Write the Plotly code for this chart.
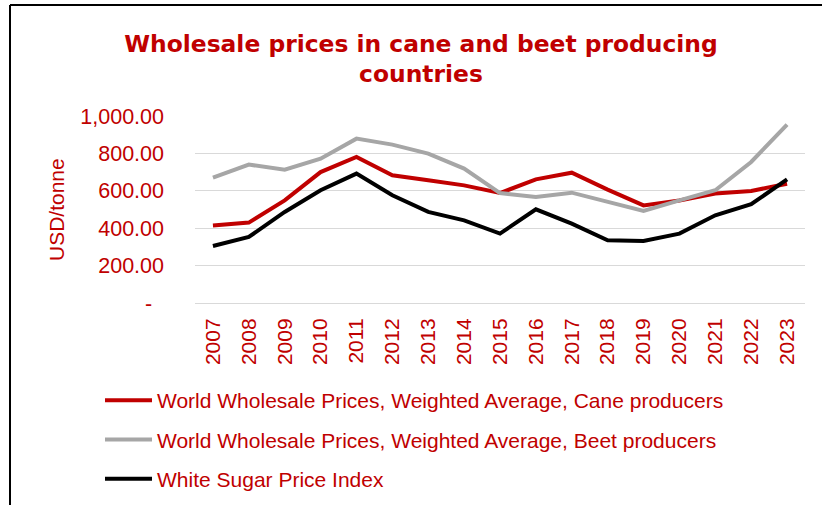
import plotly.graph_objects as go

years = [str(y) for y in range(2007, 2024)]
cane = [415, 430, 549, 700, 781, 683, 656, 629, 588, 661, 697, 606, 522, 548, 585, 599, 638]
beet = [670, 740, 713, 772, 879, 847, 799, 719, 588, 567, 590, 540, 492, 549, 603, 754, 954]
index_ = [305, 353, 487, 603, 692, 576, 487, 442, 371, 501, 424, 335, 332, 371, 469, 528, 661]

ytick_vals = [0, 200, 400, 600, 800, 1000]
ytick_text = ["-\u00a0\u00a0", "200.00", "400.00", "600.00", "800.00", "1,000.00"]

RED = "#C00000"
FONT = "Liberation Sans"

fig = go.Figure()
series = [
    ("World Wholesale Prices, Weighted Average, Cane producers", cane, RED),
    ("World Wholesale Prices, Weighted Average, Beet producers", beet, "#A6A6A6"),
    ("White Sugar Price Index", index_, "#000000"),
]
for i, (name, vals, col) in enumerate(series):
    fig.add_trace(go.Scatter(x=years, y=vals, name=name, mode="lines",
                             line=dict(color=col, width=4), legendgroup=f"g{i}"))

W, H = 822, 505
L, R, T, B = 195, 17, 116, 202
pw, ph = W - L - R, H - T - B

fig.update_layout(
    width=W, height=H,
    margin=dict(l=L, r=R, t=T, b=B, autoexpand=False),
    paper_bgcolor="white", plot_bgcolor="white",
    font=dict(family=FONT, size=21, color=RED),
    title=dict(text="<b>Wholesale prices in cane and beet producing<br>countries</b>",
               x=421 / W, xanchor="center", xref="container",
               y=1 - 52 / H, yanchor="top", yref="container",
               font=dict(family="DejaVu Sans", size=23.4, color=RED)),
    xaxis=dict(type="category", range=[-0.5, len(years) - 0.5], tickangle=-90,
               showgrid=False, showline=True, automargin=False,
               linecolor="#D9D9D9", linewidth=1, ticks="", ticklabelstandoff=6,
               tickfont=dict(size=21, color=RED)),
    yaxis=dict(range=[0, 1000], tickvals=ytick_vals, ticktext=ytick_text, automargin=False,
               showgrid=True, gridcolor="#D9D9D9", gridwidth=1, zeroline=False,
               ticks="", ticklabelstandoff=30, tickfont=dict(size=21.5, color=RED)),
    showlegend=True,
    legend=dict(orientation="v", xref="container", yref="container",
                x=100 / W, xanchor="left", y=1 - 380 / H, yanchor="top",
                font=dict(family=FONT, size=21, color=RED),
                tracegroupgap=9, itemwidth=47, bgcolor="rgba(0,0,0,0)"),
    annotations=[dict(text="USD/tonne", textangle=-90, xref="paper", yref="paper",
                      x=(56 - L) / pw, y=(H - B - 210) / ph, xanchor="center", yanchor="middle",
                      showarrow=False, font=dict(family=FONT, size=21, color=RED))],
    shapes=[dict(type="line", xref="paper", yref="paper",
                 x0=(10 - L) / pw, x1=(10 - L) / pw, y0=(H - B - 5) / ph, y1=(H - B - 520) / ph,
                 line=dict(color="black", width=2)),
            dict(type="line", xref="paper", yref="paper",
                 x0=(10 - L) / pw, x1=(830 - L) / pw, y0=(H - B - 5) / ph, y1=(H - B - 5) / ph,
                 line=dict(color="black", width=2))],
)

fig.write_html("out.html", config={"displayModeBar": False},
               post_script="document.body.style.margin='0px';document.body.style.overflow='hidden';")
